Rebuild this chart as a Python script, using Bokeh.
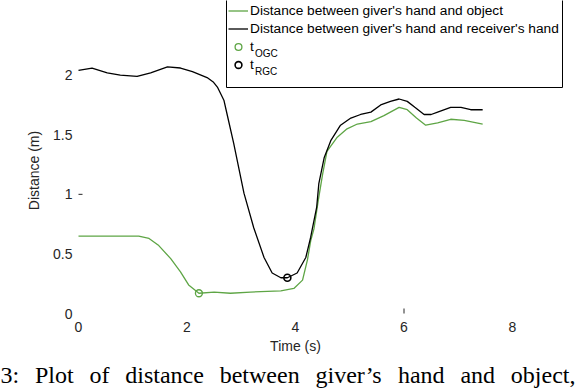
import numpy as np
from bokeh.plotting import figure
from bokeh.models import Legend, LegendItem, Label, Range1d, BoxAnnotation
from bokeh.embed import file_html
from bokeh.resources import INLINE

# ---------------- data ----------------
t_obj = [0.00, 0.55, 1.11, 1.30, 1.48, 1.70, 1.88, 2.03, 2.22, 2.50, 2.80, 3.17,
         3.73, 3.97, 4.13, 4.22, 4.28, 4.34, 4.42, 4.50, 4.58, 4.77, 4.95, 5.14,
         5.39, 5.63, 5.91, 6.06, 6.23, 6.40, 6.62, 6.86, 7.11, 7.45]
d_obj = [0.65, 0.65, 0.65, 0.63, 0.57, 0.46, 0.35, 0.24, 0.17, 0.18, 0.17, 0.18,
         0.19, 0.21, 0.28, 0.45, 0.61, 0.71, 0.95, 1.17, 1.36, 1.48, 1.55, 1.59,
         1.61, 1.66, 1.73, 1.71, 1.64, 1.58, 1.60, 1.63, 1.62, 1.59]

t_rcv = [0.00, 0.25, 0.53, 0.77, 1.08, 1.33, 1.64, 1.88, 2.10, 2.37, 2.49, 2.56,
         2.68, 2.74, 2.86, 3.05, 3.23, 3.42, 3.57, 3.73, 3.85, 4.03, 4.19, 4.28,
         4.31, 4.39, 4.43, 4.53, 4.65, 4.83, 5.02, 5.20, 5.39, 5.57, 5.75, 5.91,
         6.06, 6.20, 6.37, 6.50, 6.62, 6.86, 7.05, 7.23, 7.45]
d_rcv = [2.04, 2.06, 2.02, 2.00, 1.99, 2.02, 2.07, 2.06, 2.03, 1.98, 1.94, 1.90,
         1.79, 1.67, 1.43, 1.01, 0.72, 0.47, 0.34, 0.30, 0.30, 0.34, 0.47, 0.64,
         0.71, 0.89, 1.09, 1.31, 1.45, 1.58, 1.64, 1.67, 1.69, 1.75, 1.78, 1.80,
         1.78, 1.73, 1.67, 1.67, 1.69, 1.73, 1.73, 1.71, 1.71]

t_ogc = [2.22]
d_ogc = [0.17]
t_rgc = [3.85]
d_rgc = [0.30]

x_ticks = [0, 2, 4, 6, 8]
x_tick_labels = ["0", "2", "4", "6", "8"]
y_ticks = [0, 0.5, 1, 1.5, 2]
y_tick_labels = ["0", "0.5", "1", "1.5", "2"]
x_tick_marks = [6]
y_tick_marks = [1]
x_title = "Time (s)"
y_title = "Distance (m)"

series_labels = ["Distance between giver's hand and object",
                 "Distance between giver's hand and receiver's hand"]
event_main = ["t", "t"]
event_subs = ["OGC", "RGC"]
caption_words = ["3:", "Plot", "of", "distance", "between", "giver\u2019s",
                 "hand", "and", "object,"]

# ---------------- layout constants (canvas pixels) ----------------
W, H = 576, 388
FL, FR, FT, FB = 78, 512, 27, 313          # axes box edges
X0, X1 = 0, 8                               # data limits of the axes box
Y0, Y1 = 0, 2.4
GREEN = "#5ea545"
TXT = "#262626"
SANS = "Liberation Sans"
SERIF = "Liberation Serif"


def px_x(px):
    return X0 + (px - FL) * (X1 - X0) / (FR - FL)


def px_y(py):
    return Y0 + (FB - py) * (Y1 - Y0) / (FB - FT)


p = figure(width=W, height=H,
           x_range=Range1d(px_x(0), px_x(W)), y_range=Range1d(px_y(H), px_y(0)),
           output_backend="svg", toolbar_location=None,
           x_axis_type=None, y_axis_type=None,
           min_border=0, min_border_left=0, min_border_right=0,
           min_border_top=0, min_border_bottom=0)
p.outline_line_color = None
p.grid.visible = False
p.background_fill_color = "white"
p.border_fill_color = "white"

# tick labels
p.text(x=x_ticks, y=[px_y(326)] * len(x_ticks), text=x_tick_labels,
       text_font={"value": SANS}, text_font_size="14px", text_color=TXT,
       text_align="center", text_baseline="middle")
p.text(x=[px_x(72)] * len(y_ticks), y=y_ticks, text=y_tick_labels,
       text_font={"value": SANS}, text_font_size="14px", text_color=TXT,
       text_align="right", text_baseline="middle")
# axis titles
p.add_layout(Label(x=(X0 + X1) / 2, y=px_y(345), text=x_title,
                   text_font=SANS, text_font_size="14px", text_color=TXT,
                   text_align="center", text_baseline="middle"))
p.add_layout(Label(x=px_x(33), y=(Y0 + Y1) / 2, text=y_title, angle=np.pi / 2,
                   text_font=SANS, text_font_size="14px", text_color=TXT,
                   text_align="center", text_baseline="middle"))

# lone inward tick marks
p.ray(x=[X0 for _ in y_tick_marks], y=y_tick_marks, length=4, length_units="screen",
      angle=0, line_color=TXT, line_width=1)
p.ray(x=x_tick_marks, y=[Y0 for _ in x_tick_marks], length=5, length_units="screen",
      angle=np.pi / 2, line_color=TXT, line_width=1)

r_obj = p.line(t_obj, d_obj, line_color=GREEN, line_width=1.3)
r_rcv = p.line(t_rcv, d_rcv, line_color="black", line_width=1.3)
r_ogc = p.scatter(t_ogc, d_ogc, marker="circle", size=7, fill_color=None,
                  line_color=GREEN, line_width=1.3)
r_rgc = p.scatter(t_rgc, d_rgc, marker="circle", size=7, fill_color=None,
                  line_color="black", line_width=1.6)

# legend box
p.add_layout(BoxAnnotation(left=px_x(226), right=px_x(562), top=px_y(-1), bottom=px_y(87),
                           fill_color="white", fill_alpha=1.0,
                           line_color="black", line_width=1, line_alpha=1.0))
# legend entries
ROW_H, ROW_GAP, LEG_LEFT, LEG_TOP = 17, 1, 228, 1.5
leg_h = 4 * ROW_H + 3 * ROW_GAP
legend = Legend(items=[LegendItem(label=series_labels[0], renderers=[r_obj]),
                       LegendItem(label=series_labels[1], renderers=[r_rcv]),
                       LegendItem(label=event_main[0], renderers=[r_ogc]),
                       LegendItem(label=event_main[1], renderers=[r_rgc])],
                location=(LEG_LEFT, H - (LEG_TOP + leg_h)),
                margin=0, padding=0, spacing=ROW_GAP,
                glyph_width=20, glyph_height=ROW_H, label_height=ROW_H, label_standoff=2,
                label_text_font=SANS, label_text_font_size="13.7px",
                label_text_color="black",
                border_line_color=None, background_fill_alpha=0)
p.add_layout(legend)

# subscripts of the event labels
row_centers = [LEG_TOP + (k + 0.5) * ROW_H + k * ROW_GAP for k in (2, 3)]
for sub, cy in zip(event_subs, row_centers):
    p.add_layout(Label(x=px_x(254.5), y=px_y(cy + 7), text=sub,
                       text_font=SANS, text_font_size="10px", text_color="black",
                       text_baseline="middle", text_align="left"))

# caption, justified across the page width
CAP_SIZE = 24
times_w = {"3": 500, ":": 278, "P": 556, "l": 278, "o": 500, "t": 278, "f": 333,
           "d": 500, "i": 278, "s": 389, "a": 444, "n": 500, "c": 444, "e": 444,
           "b": 500, "w": 722, "g": 500, "v": 500, "r": 333, "\u2019": 333,
           "h": 500, "j": 278, ",": 250}
widths = [sum(times_w.get(ch, 500) for ch in w) / 1000 * CAP_SIZE for w in caption_words]
gap = (575 - sum(widths)) / (len(caption_words) - 1)
xp = 0.0
for w, ww in zip(caption_words, widths):
    p.add_layout(Label(x=px_x(xp), y=px_y(374), text=w,
                       text_font=SERIF, text_font_size=f"{CAP_SIZE}px",
                       text_color="black", text_baseline="middle",
                       text_align="left"))
    xp += ww + gap

open("out.html", "w").write(file_html(p, INLINE))
